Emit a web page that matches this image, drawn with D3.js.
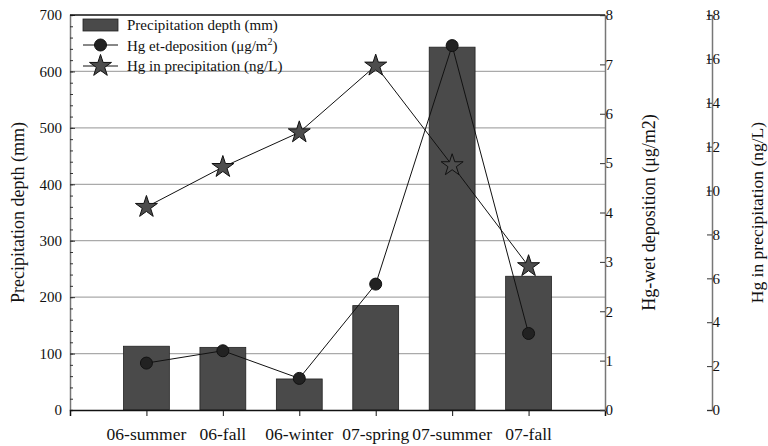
<!DOCTYPE html>
<html><head><meta charset="utf-8">
<script src="https://cdn.jsdelivr.net/npm/d3@7"></script>
<style>body{margin:0;background:#fff}svg{display:block}text{font-family:"Liberation Serif","Times New Roman",Times,serif;fill:#111}</style>
</head><body><svg id="c" width="768" height="446"></svg>
<script>
const categories = ["06-summer","06-fall","06-winter","07-spring","07-summer","07-fall"];
const precipDepth = [113, 111, 55, 185, 643, 237];
const hgDeposition = [0.95, 1.2, 0.64, 2.55, 7.38, 1.55];
const hgConcentration = [9.25, 11.07, 12.65, 15.69, 11.15, 6.55];
const leftTicks = [0,100,200,300,400,500,600,700];
const rightTicks = [0,1,2,3,4,5,6,7,8];
const farTicks = [0,2,4,6,8,10,12,14,16,18];

const svg = d3.select("#c");
const L = 70, R = 605, T = 15, B = 410;
const x = d3.scaleLinear().domain([0, categories.length + 1]).range([L, R]);
const yL = d3.scaleLinear().domain([0, 700]).range([B, T]);
const yR = d3.scaleLinear().domain([0, 8]).range([B, T]);
const yF = d3.scaleLinear().domain([0, 18]).range([B, T]);

// grid
svg.append("g").selectAll("line").data(leftTicks.filter(v => v > 0 && v < 700)).join("line")
  .attr("x1", L).attr("x2", R).attr("y1", d => yL(d)).attr("y2", d => yL(d))
  .attr("stroke", "#aaa").attr("stroke-width", 1.3);

// bars
const bw = x(0.6) - x(0);
svg.append("g").selectAll("rect").data(precipDepth).join("rect")
  .attr("x", (d, i) => x(i + 1) - bw / 2).attr("width", bw)
  .attr("y", d => yL(d)).attr("height", d => B - yL(d))
  .attr("fill", "#4a4a4a").attr("stroke", "#222").attr("stroke-width", 0.8);

// left axis
const gl = svg.append("g").attr("transform", `translate(${L},0)`);
gl.call(d3.axisRight(yL).tickValues(d3.range(0, 701, 20)).tickSize(3).tickFormat(""));
gl.append("g").call(d3.axisRight(yL).tickValues(leftTicks).tickSize(5).tickFormat(""))
  .call(g => g.select(".domain").remove());
gl.selectAll(".domain").attr("stroke", "#777").attr("stroke-width", 1.5);
gl.selectAll("line").attr("stroke", "#333");
gl.selectAll(".lbl").data(leftTicks).join("text").attr("class", "lbl")
  .attr("x", -8).attr("y", d => yL(d)).attr("dy", "0.35em").attr("text-anchor", "end")
  .attr("font-size", 15).text(d => d);

// top frame & bottom axis
svg.append("line").attr("x1", L).attr("x2", R).attr("y1", T).attr("y2", T).attr("stroke", "#111").attr("stroke-width", 1.3);
const gb = svg.append("g").attr("transform", `translate(0,${B})`);
gb.call(d3.axisBottom(x).tickValues(d3.range(1, categories.length + 1)).tickSize(6).tickFormat(""));
gb.select(".domain").attr("stroke", "#111").attr("stroke-width", 1.5);
gb.selectAll(".tick line").attr("stroke", "#111");
gb.selectAll(".lbl").data(categories).join("text").attr("class", "lbl")
  .attr("x", (d, i) => x(i + 1)).attr("y", 30).attr("text-anchor", "middle")
  .attr("font-size", 17.5).text(d => d);

// right axis
const gr = svg.append("g").attr("transform", `translate(${R},0)`);
gr.call(d3.axisLeft(yR).tickValues(rightTicks).tickSize(5).tickFormat(""));
gr.select(".domain").attr("stroke", "#777").attr("stroke-width", 1.5);
gr.selectAll(".tick line").attr("stroke", "#333");
gr.selectAll(".lbl").data(rightTicks).join("text").attr("class", "lbl")
  .attr("x", 8).attr("y", d => yR(d)).attr("dy", "0.35em").attr("font-size", 15).text(d => d);

// far axis
const FX = 712;
const gf = svg.append("g").attr("transform", `translate(${FX},0)`);
gf.call(d3.axisLeft(yF).tickValues(farTicks).tickSize(5).tickFormat(""));
gf.select(".domain").attr("stroke", "#777").attr("stroke-width", 1.5);
gf.selectAll(".tick line").attr("stroke", "#333");
gf.selectAll(".lbl").data(farTicks).join("text").attr("class", "lbl")
  .attr("x", 8).attr("y", d => yF(d)).attr("dy", "0.35em").attr("font-size", 15).text(d => d);

// titles
const mid = (T + B) / 2;
svg.append("text").attr("transform", `translate(24,${mid}) rotate(-90)`).attr("text-anchor", "middle")
  .attr("font-size", 18).text("Precipitation depth (mm)");
svg.append("text").attr("transform", `translate(655,${mid}) rotate(-90)`).attr("text-anchor", "middle")
  .attr("font-size", 18).text("Hg-wet deposition (μg/m2)");
svg.append("text").attr("transform", `translate(763,${mid}) rotate(-90)`).attr("text-anchor", "middle")
  .attr("font-size", 17.5).text("Hg in precipitation (ng/L)");

// star path
const star = d3.symbol().type(d3.symbolStar).size(150)();

// concentration line
const lineF = d3.line().x((d, i) => x(i + 1)).y(d => yF(d));
svg.append("path").datum(hgConcentration).attr("d", lineF).attr("fill", "none").attr("stroke", "#111").attr("stroke-width", 1);
// deposition line
const lineR = d3.line().x((d, i) => x(i + 1)).y(d => yR(d));
svg.append("path").datum(hgDeposition).attr("d", lineR).attr("fill", "none").attr("stroke", "#111").attr("stroke-width", 1);

svg.append("g").selectAll("path").data(hgConcentration).join("path")
  .attr("d", star).attr("transform", (d, i) => `translate(${x(i + 1)},${yF(d)})`)
  .attr("fill", "#4d4d4d").attr("stroke", "#111").attr("stroke-width", 1);
svg.append("g").selectAll("circle").data(hgDeposition).join("circle")
  .attr("cx", (d, i) => x(i + 1)).attr("cy", d => yR(d)).attr("r", 6)
  .attr("fill", "#222").attr("stroke", "#111").attr("stroke-width", 1);

// legend
const lg = svg.append("g");
lg.append("rect").attr("x", 83).attr("y", 19).attr("width", 35).attr("height", 12)
  .attr("fill", "#4a4a4a").attr("stroke", "#222").attr("stroke-width", 0.8);
lg.append("line").attr("x1", 83).attr("x2", 118).attr("y1", 45).attr("y2", 45).attr("stroke", "#111");
lg.append("circle").attr("cx", 100.5).attr("cy", 45).attr("r", 6).attr("fill", "#222").attr("stroke", "#111");
lg.append("line").attr("x1", 83).attr("x2", 118).attr("y1", 66).attr("y2", 66).attr("stroke", "#111");
lg.append("path").attr("d", star).attr("transform", "translate(100.5,66)").attr("fill", "#4d4d4d").attr("stroke", "#111");
lg.append("text").attr("x", 127).attr("y", 30).attr("font-size", 15).text("Precipitation depth (mm)");
const t2 = lg.append("text").attr("x", 127).attr("y", 51).attr("font-size", 15);
t2.append("tspan").text("Hg et-deposition (μg/m");
t2.append("tspan").attr("font-size", 10).attr("dy", -6).text("2");
t2.append("tspan").attr("dy", 6).text(")");
lg.append("text").attr("x", 127).attr("y", 71).attr("font-size", 15).text("Hg in precipitation (ng/L)");
</script></body></html>
